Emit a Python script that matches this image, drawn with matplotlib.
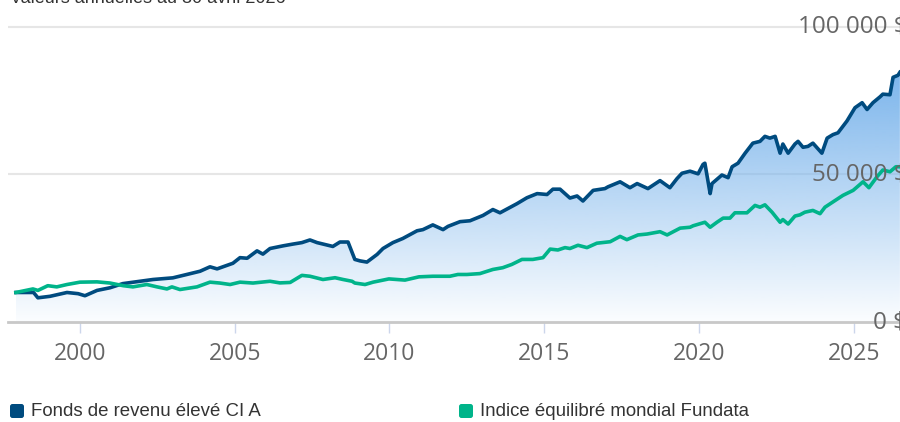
import numpy as np
import matplotlib
matplotlib.use('Agg')
import matplotlib.pyplot as plt
import matplotlib.transforms as mtransforms
from matplotlib.patches import FancyBboxPatch
from matplotlib.colors import to_rgb

# ----- values (decimal year, value in $) -----
fundYears = [1997.93, 1998.50, 1998.64, 1999.03, 1999.58, 1999.94, 2000.16, 2000.55, 2000.97,
             2001.38, 2001.94, 2002.36, 2003.00, 2003.45, 2003.88, 2004.20, 2004.43, 2004.94,
             2005.17, 2005.40, 2005.72, 2005.91, 2006.14, 2006.56, 2006.88, 2007.17, 2007.43,
             2007.66, 2008.17, 2008.40, 2008.66, 2008.88, 2009.05, 2009.27, 2009.60, 2009.79,
             2010.11, 2010.43, 2010.89, 2011.08, 2011.40, 2011.73, 2011.89, 2012.28, 2012.60,
             2013.02, 2013.34, 2013.57, 2014.12, 2014.44, 2014.77, 2015.09, 2015.28, 2015.51,
             2015.83, 2016.06, 2016.25, 2016.58, 2016.96, 2017.06, 2017.45, 2017.77, 2018.00,
             2018.35, 2018.74, 2019.06, 2019.29, 2019.45, 2019.71, 2019.97, 2020.13, 2020.19,
             2020.36, 2020.42, 2020.74, 2020.94, 2021.07, 2021.26, 2021.49, 2021.74, 2021.97,
             2022.13, 2022.29, 2022.46, 2022.62, 2022.71, 2022.88, 2023.10, 2023.20, 2023.36,
             2023.52, 2023.68, 2023.97, 2024.14, 2024.33, 2024.49, 2024.78, 2025.04, 2025.27,
             2025.43, 2025.62, 2025.85, 2025.94, 2026.17, 2026.27, 2026.43, 2026.49]
fundValues = [10000, 10000, 8200, 8700, 10000, 9600, 8900, 10700, 11600,
              13000, 13800, 14400, 14960, 16100, 17200, 18700, 18000, 19900,
              21800, 21600, 24100, 23000, 24900, 25800, 26400, 26900, 27800,
              26900, 25600, 27100, 27100, 21200, 20700, 20300, 22900, 24900,
              26900, 28300, 30900, 31300, 32900, 31300, 32400, 34000, 34300,
              36100, 38100, 37000, 40100, 42100, 43500, 43200, 45000, 45000,
              42000, 42700, 41000, 44600, 45200, 45800, 47500, 45500, 46900,
              45200, 47900, 45500, 48600, 50400, 51100, 50200, 53400, 53800,
              43500, 46900, 49800, 48900, 52600, 53800, 57200, 60600, 61200,
              62900, 62300, 62900, 57200, 60300, 57200, 60300, 61200, 59200,
              59500, 60600, 57200, 62300, 63500, 64100, 68100, 72600, 74300,
              72000, 74300, 76300, 77200, 77000, 82900, 83600, 84600]

indexYears = [1997.93, 1998.48, 1998.64, 1998.96, 1999.25, 1999.58, 2000.00, 2000.55, 2000.97,
              2001.40, 2001.71, 2002.16, 2002.49, 2002.81, 2002.97, 2003.23, 2003.78, 2004.20,
              2004.52, 2004.85, 2005.17, 2005.59, 2006.14, 2006.46, 2006.79, 2007.17, 2007.43,
              2007.85, 2008.24, 2008.50, 2008.79, 2008.88, 2009.21, 2009.47, 2009.98, 2010.50,
              2010.95, 2011.40, 2011.95, 2012.21, 2012.50, 2012.92, 2013.34, 2013.66, 2013.95,
              2014.28, 2014.63, 2014.96, 2015.19, 2015.44, 2015.67, 2015.83, 2016.09, 2016.38,
              2016.70, 2017.13, 2017.45, 2017.67, 2018.03, 2018.32, 2018.74, 2018.97, 2019.39,
              2019.71, 2019.81, 2020.19, 2020.36, 2020.58, 2020.78, 2021.00, 2021.16, 2021.55,
              2021.81, 2021.97, 2022.13, 2022.36, 2022.62, 2022.71, 2022.88, 2023.10, 2023.26,
              2023.42, 2023.68, 2023.91, 2024.07, 2024.33, 2024.65, 2024.98, 2025.30, 2025.49,
              2025.75, 2025.94, 2026.17, 2026.36, 2026.49]
indexValues = [10000, 11200, 10700, 12300, 11900, 12700, 13500, 13600, 13200,
               12300, 11900, 12700, 11900, 11200, 11900, 11000, 11900, 13500,
               13200, 12700, 13500, 13200, 13800, 13250, 13400, 15800, 15500,
               14400, 15000, 14400, 13800, 13200, 12700, 13500, 14600, 14200,
               15300, 15500, 15500, 16100, 16100, 16400, 17800, 18400, 19500,
               21200, 21200, 21800, 24700, 24400, 25200, 24900, 26000, 25200,
               26700, 27200, 29000, 27900, 29500, 29800, 30600, 29500, 31800,
               32100, 32600, 33800, 32100, 33800, 35200, 35200, 37000, 37000,
               39500, 38900, 39700, 37200, 33800, 34700, 33200, 35900, 36300,
               37200, 37800, 36700, 38900, 40700, 42900, 44600, 47500, 45500,
               49200, 51500, 50900, 52600, 52600]

yearTicks = [2000, 2005, 2010, 2015, 2020, 2025]
valueTicks = [0, 50000, 100000]
valueLabels = ['0 $', '50 000 $', '100 000 $']
seriesNames = ['Fonds de revenu élevé CI A', 'Indice équilibré mondial Fundata']
titleText = 'Valeurs annuelles au 30 avril 2026'

blue = '#004b7f'
green = '#00b48a'
areaColor = '#7cb5ec'

fig = plt.figure(figsize=(9, 4.22), dpi=100)
ax = fig.add_axes([8/900, 100/422, 892/900, 304/422])

# ----- gradient area under the fund line -----
bx = np.array(fundYears)
by = np.array(fundValues)
poly = ax.fill_between(bx, by, 0, facecolor='none', edgecolor='none')
rgb = to_rgb(areaColor)
grad = np.zeros((256, 1, 4))
grad[:, 0, :3] = rgb
grad[:, 0, 3] = np.linspace(0.03, 1.0, 256)
im = ax.imshow(grad, extent=[bx[0], bx[-1], 0, by.max()], origin='lower',
               aspect='auto', interpolation='bilinear', zorder=1)
im.set_clip_path(poly.get_paths()[0], transform=ax.transData)

# grid lines
for v in valueTicks[1:]:
    ax.axhline(v, color='#e6e6e6', lw=1.5, zorder=0.5)

ax.plot(bx, by, color=blue, lw=2.6, solid_joinstyle='round', zorder=3)
ax.plot(indexYears, indexValues, color=green, lw=2.6, solid_joinstyle='round', zorder=4)

ax.set_xlim(1997.674, 2026.494)
ax.set_ylim(0, 103000)

for s in ['top', 'left', 'right']:
    ax.spines[s].set_visible(False)
ax.spines['bottom'].set_color('#c8c8c8')
ax.spines['bottom'].set_linewidth(2)
ax.spines['bottom'].set_zorder(5)

ax.set_yticks([])
ax.set_xticks(yearTicks)
ax.set_xticklabels([str(y) for y in yearTicks], fontsize=16.5, color='#666666', family='Open Sans')
ax.tick_params(axis='x', length=8, width=1, color='#ccd6eb', pad=6.5)
ax.patch.set_alpha(0)

# value labels sit inside the plot, right aligned, cut by the figure edge
trans = mtransforms.blended_transform_factory(ax.transAxes, ax.transData)
for v, lab in zip(valueTicks, valueLabels):
    ax.text(1.008, v, lab, transform=trans, ha='right', va='center', fontsize=17.5,
            color='#666666', family='Open Sans', clip_on=False, zorder=6)

# title (mostly cut off at the top)
fig.text(10/900, 1 - 3/422, titleText, va='baseline', ha='left', fontsize=13,
         color='#333333', family='Liberation Sans')

# legend
for xpx, col, name in [(10, blue, seriesNames[0]), (459, green, seriesNames[1])]:
    sq = FancyBboxPatch((xpx, 4), 14, 14, boxstyle='round,pad=0,rounding_size=2.5',
                        facecolor=col, edgecolor='none', transform=None)
    fig.add_artist(sq)
    fig.text((xpx + 21)/900, 10.5/422, name, va='center', ha='left', fontsize=13.4,
             color='#333333', family='Liberation Sans')

fig.savefig('out.png', dpi=100)
